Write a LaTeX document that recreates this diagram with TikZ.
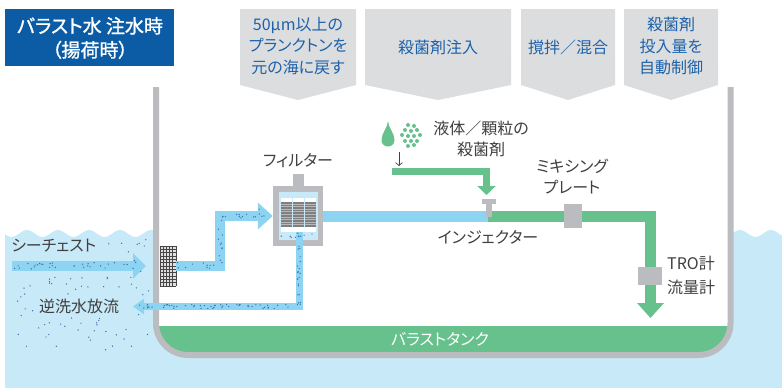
\documentclass[tikz,border=0pt]{standalone}
\usepackage{fontspec}
\setmainfont{Noto Sans CJK JP}[RawFeature=+palt]
\newfontfamily\titlefont{Noto Sans CJK JP}[RawFeature=+palt,FakeBold=1.2]
\usetikzlibrary{arrows.meta}

\definecolor{titlebg}{HTML}{0B5CA5}
\definecolor{headgray}{HTML}{DCDDDF}
\definecolor{headtext}{HTML}{1D62AA}
\definecolor{wallgray}{HTML}{BBBCBF}
\definecolor{tankgreen}{HTML}{67C18D}
\definecolor{pipeblue}{HTML}{8DD4F2}
\definecolor{seablue}{HTML}{C7E9F8}
\definecolor{dotblue}{HTML}{3E6AA8}
\definecolor{labelgray}{HTML}{404040}
\definecolor{stripe}{HTML}{7E7F82}

% scatter #1 small dots in the box (#2,#3)-(#4,#5)
\newcommand\sprinkle[5]{%
  \foreach \k in {1,...,#1}{%
    \fill[dotblue] ({#2+(#4-#2)*rnd},{#3+(#5-#3)*rnd}) circle (0.7pt);}}

\begin{document}
\begin{tikzpicture}[x=1pt,y=-1pt,
  headbox/.style={fill=headgray},
  headtxt/.style={text=headtext,align=center,inner sep=0pt,
    font=\fontsize{16}{21.5}\selectfont},
  lbl/.style={text=labelgray,align=center,inner sep=0pt,
    font=\fontsize{16}{21}\selectfont},
  device/.style={fill=wallgray,draw=none,inner sep=0pt},
  bluepipe/.style={draw=pipeblue,line join=miter},
  greenpipe/.style={draw=tankgreen,line join=miter}]
\useasboundingbox (0,0) rectangle (782,388);
\pgfmathsetseed{11}

% ---- sea ----
\fill[seablue] (5,388) -- plot[domain=5:782,samples=300]
  (\x,{233.5-3.5*cos((\x-27)/31*360)}) -- (782,388) -- cycle;

% ---- tank interior, floor and hull ----
\fill[white,rounded corners=32pt] (156,60) -- (156,355) -- (730.5,355) -- (730.5,60) -- cycle;
\begin{scope}
  \clip[rounded corners=32pt] (156,60) -- (156,355) -- (730.5,355) -- (730.5,60) -- cycle;
  \fill[tankgreen] (150,326) rectangle (740,362);
\end{scope}
\draw[wallgray,line width=6pt,rounded corners=32pt] (156,87) -- (156,355) -- (730.5,355) -- (730.5,87);
\node[text=white,inner sep=0pt,font=\fontsize{16}{20}\selectfont] (tank) at (440,339) {バラストタンク};

% ---- title ----
\fill[titlebg] (5,9) rectangle (174,66);
\node[text=white,align=center,inner sep=0pt,font=\titlefont\fontsize{19}{24}\selectfont] (title) at (90,38) {バラスト水 注水時\\（揚荷時）};

% ---- process headers ----
\fill[headbox] (240,9) -- (356,9) -- (356,85) -- (298,100) -- (240,85) -- cycle;
\fill[headbox] (365,9) -- (511,9) -- (511,85) -- (438,100) -- (365,85) -- cycle;
\fill[headbox] (521,9) -- (615,9) -- (615,85) -- (568,100) -- (521,85) -- cycle;
\fill[headbox] (624,9) -- (718,9) -- (718,85) -- (671,100) -- (624,85) -- cycle;
\node[headtxt] (h1) at (298,46) {50μm以上の\\プランクトンを\\元の海に戻す};
\node[headtxt] (h2) at (438,47) {殺菌剤注入};
\node[headtxt] (h3) at (568,47) {撹拌／混合};
\node[headtxt] (h4) at (671,46) {殺菌剤\\投入量を\\自動制御};

% ---- sea chest inflow ----
\coordinate (sc0) at (12,266);
\coordinate (sc1) at (146,266);
\draw[bluepipe,line width=10pt,-{Triangle[length=13pt,width=25pt]}] (sc0) -- (sc1);
\node[lbl,anchor=west] (sclbl) at (11,246) {シーチェスト};

% grating
\node[device,fill=gray!25,minimum width=16pt,minimum height=40pt] (grate) at (168,266) {};
\foreach \gx in {160,163.2,...,176.1}
  \draw[black!72,line width=0.75pt] (\gx,246) -- (\gx,286);
\foreach \gy in {246,249.33,...,286.1}
  \draw[black!72,line width=0.75pt] (160,\gy) -- (176,\gy);

% ---- filter ----
\node[device,minimum width=50pt,minimum height=60pt] (filter) at (298,216) {};
\fill[wallgray] (293,174) rectangle (304,187);
\fill[seablue] (279,192) rectangle (318,240);
\fill[white] (281,227) rectangle (316,232);
\foreach \cx in {281,293,305}{
  \fill[white] (\cx,198) rectangle (\cx+11,202);
  \fill[stripe] (\cx,202) rectangle (\cx+11,227);
  \foreach \sy in {204,206.6,...,226}{
    \draw[gray!55,line width=0.8pt] (\cx,\sy) -- (\cx+11,\sy);}
}
\node[lbl] (filtlbl) at (298,161) {フィルター};

% pipe from grating to filter
\draw[bluepipe,line width=10pt,-{Triangle[length=15pt,width=26pt]}]
  (grate.east |- 0,266) -- (220,266) -- (220,216) -- (filter.west |- 0,216);

% backwash line
\draw[bluepipe,line width=7pt,-{Triangle[length=11pt,width=15pt]}]
  (299,232) -- (299,306.5) -- (133,306.5);
\node[lbl,anchor=west] (bwlbl) at (39,306) {逆洗水放流};

% filter outlet to injector
\coordinate (inj) at (488,216.5);
\draw[pipeblue,line width=11pt] (filter.east |- 0,216.5) -- (inj);

% ---- disinfectant line ----
\draw[greenpipe,line width=11pt,-{Triangle[length=15pt,width=26pt]}]
  (inj) -- (650.5,216.5) -- (650.5,318);
\draw[greenpipe,line width=7pt,-{Triangle[length=9pt,width=18pt]}]
  (392,171.5) -- (486.5,171.5) -- (486.5,195);

% injector
\fill[wallgray] (482,199) rectangle (496,203.5);
\fill[wallgray] (485.5,203) rectangle (491.5,217);
\node[lbl] (injlbl) at (488,237) {インジェクター};

% mixing plate and meters
\node[device,minimum width=18pt,minimum height=24pt] (mixer) at (573,216) {};
\node[lbl] (mixlbl) at (572,177) {ミキシング\\プレート};
\node[device,minimum width=24pt,minimum height=18pt] (tro) at (650,276) {};
\node[lbl,align=left,anchor=west,font=\fontsize{16}{24}\selectfont] (trolbl) at (667,275) {TRO計\\流量計};

% liquid / granular agent icons
\fill[tankgreen] (388,121) .. controls (388,127) and (381.5,133) .. (381.5,140)
  .. controls (381.5,144) and (384.5,146.5) .. (388,146.5)
  .. controls (391.5,146.5) and (394.5,144) .. (394.5,140)
  .. controls (394.5,133) and (388,127) .. (388,121) -- cycle;
\foreach \gx/\gy in {408/125,414/126,405/130,411/131,417/130,402/135,408/136,414/136,420/135,405/141,411/141,417/141,408/146,414/145}
  \fill[tankgreen] (\gx,\gy) circle (2pt);
\draw[labelgray,line width=0.7pt,-{Straight Barb[length=3pt,width=7pt]}] (399,152) -- (399,166);
\node[lbl] (agentlbl) at (481,138.5) {液体／顆粒の\\殺菌剤};

% ---- suspended particles ----
\sprinkle{30}{14}{262.5}{131}{269.5}
\sprinkle{4}{133}{260}{141}{272}
\sprinkle{10}{177}{262.5}{218}{269.5}
\sprinkle{12}{217}{214}{223}{264}
\sprinkle{10}{222}{212.5}{258}{219.5}
\sprinkle{4}{259}{209}{266}{223}
\sprinkle{9}{281}{234}{316}{239}
\sprinkle{22}{297.5}{232}{300.5}{305}
\sprinkle{50}{142}{304.5}{300}{308.5}
\sprinkle{7}{100}{236}{150}{253}
\sprinkle{24}{15}{276}{150}{296}
\sprinkle{5}{15}{296}{36}{318}
\sprinkle{4}{132}{296}{150}{318}
\sprinkle{28}{15}{318}{150}{350}
\end{tikzpicture}
\end{document}
